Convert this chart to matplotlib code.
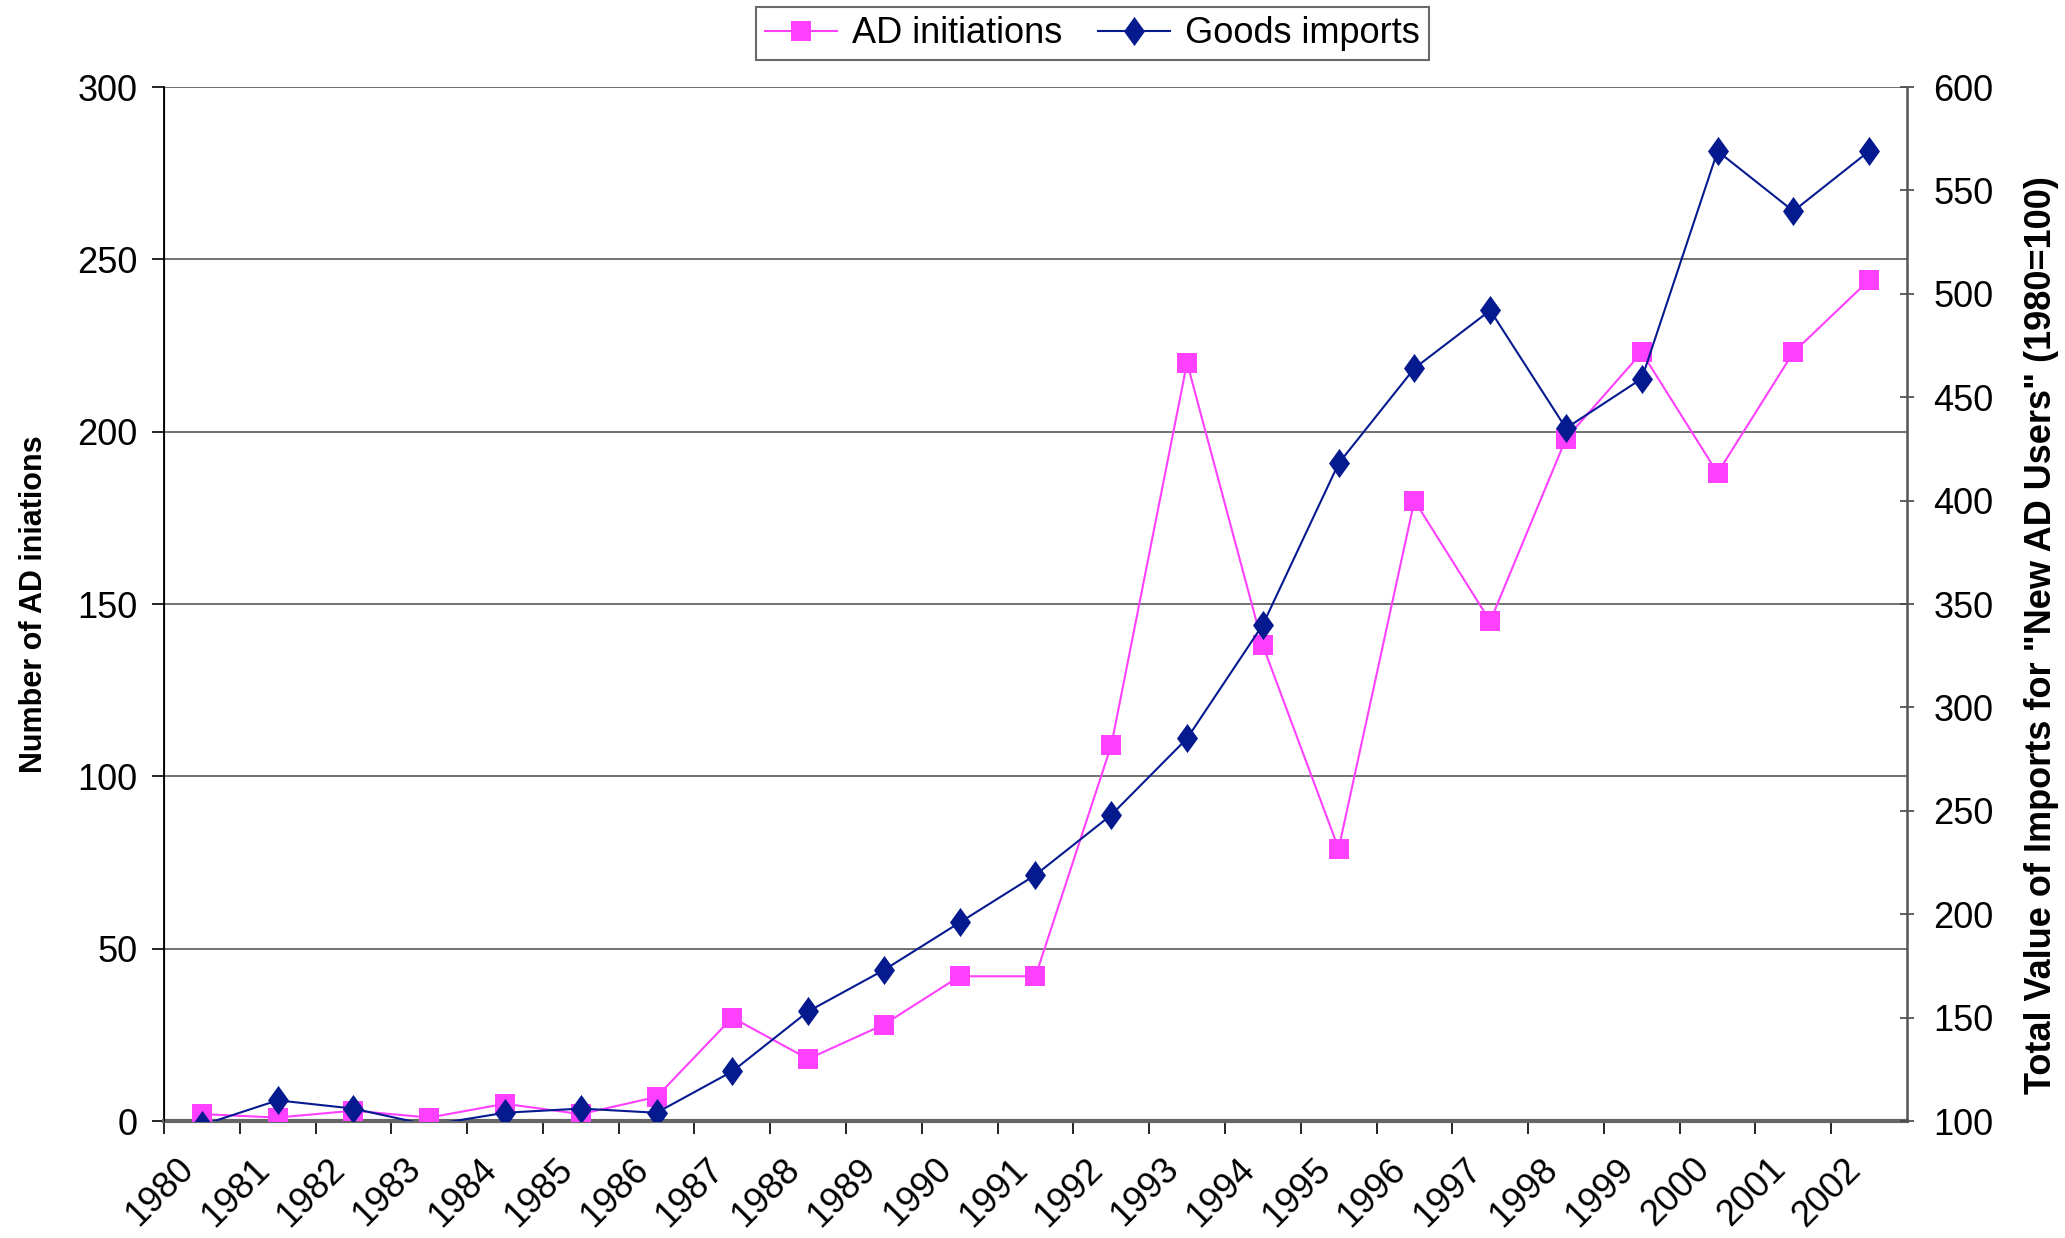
import numpy as np
import matplotlib
matplotlib.use("Agg")
import matplotlib.pyplot as plt
import matplotlib.transforms as mtransforms

plt.rcParams['font.family'] = ['Liberation Sans', 'DejaVu Sans']

# Data
years = [str(y) for y in range(1980, 2003)]
ad_initiations = [2, 1, 3, 1, 5, 2, 7, 30, 18, 28, 42, 42, 109, 220, 138, 79,
                  180, 145, 198, 223, 188, 223, 244]
goods_imports = [98, 110, 106, 98, 104, 106, 104, 124, 153, 173, 196, 219, 248,
                 285, 340, 418, 464, 492, 435, 459, 569, 540, 569]

pink = '#FF40FF'
navy = '#061A90'

fig = plt.figure(figsize=(20.65, 12.38), dpi=100)
ax = fig.add_axes([0.0794, 0.0945, 0.8441, 0.8352])
ax2 = ax.twinx()

x = np.arange(len(years)) + 0.5

# tall diamond marker
diamond = [(0, 1), (0.72, 0), (0, -1), (-0.72, 0), (0, 1)]
# the 1983 diamond is not drawn in the original
shown = [i for i in range(len(years)) if years[i] != '1983']

ax.plot(x, ad_initiations, color=pink, lw=1.5, marker='s', markersize=15,
        markeredgewidth=0, label='AD initiations', zorder=3)
ax2.plot(x, goods_imports, color=navy, lw=1.5, marker=diamond, markersize=21,
         markeredgewidth=0, markevery=shown, label='Goods imports', zorder=4)

ax.set_xlim(0, len(years))
ax.set_ylim(0, 300)
ax2.set_ylim(100, 600)
ax.set_yticks(range(0, 301, 50))
ax2.set_yticks(range(100, 601, 50))

ax.set_xticks(np.arange(len(years)))
ax.set_xticklabels(years, rotation=45, ha='right', va='top',
                   rotation_mode='anchor')
ax.tick_params(axis='x', length=9, width=1.2, direction='out', pad=13,
               labelsize=26)
ax.tick_params(axis='y', length=9, width=1.2, direction='out', labelsize=26,
               pad=10)
ax2.tick_params(axis='y', length=10, width=1.2, direction='inout',
                labelsize=26, pad=14, color='#444444')

shift = mtransforms.ScaledTranslation(12 / 100, 0, fig.dpi_scale_trans)
for lab in ax.get_xticklabels():
    lab.set_transform(lab.get_transform() + shift)

ax.yaxis.grid(True, color='#666666', lw=1.3)
ax.set_axisbelow(True)

ax.spines['top'].set_visible(False)
ax2.spines['top'].set_visible(False)
ax.spines['bottom'].set_color('#666666')
ax.spines['bottom'].set_linewidth(3)
ax2.spines['bottom'].set_visible(False)
ax.spines['left'].set_linewidth(1.3)
ax2.spines['right'].set_color('#555555')
ax2.spines['right'].set_linewidth(1.8)
ax.spines['right'].set_visible(False)

ax.set_ylabel('Number of AD iniations', fontsize=22, fontweight='bold',
              labelpad=20)
ax2.set_ylabel('Total Value of Imports for "New AD Users" (1980=100)',
               fontsize=26, fontweight='bold')
ax2.yaxis.set_label_coords(1.067, 0.47)

h1, l1 = ax.get_legend_handles_labels()
h2, l2 = ax2.get_legend_handles_labels()
leg = fig.legend(h1 + h2, l1 + l2, loc='upper center',
                 bbox_to_anchor=(0.529, 0.994), ncol=2, fontsize=26,
                 frameon=True, fancybox=False, edgecolor='#444444',
                 handlelength=2.0, columnspacing=1.0, borderpad=0.25,
                 handletextpad=0.4, borderaxespad=0)
leg.get_frame().set_linewidth(1.5)

fig.savefig('out.png', dpi=100)
